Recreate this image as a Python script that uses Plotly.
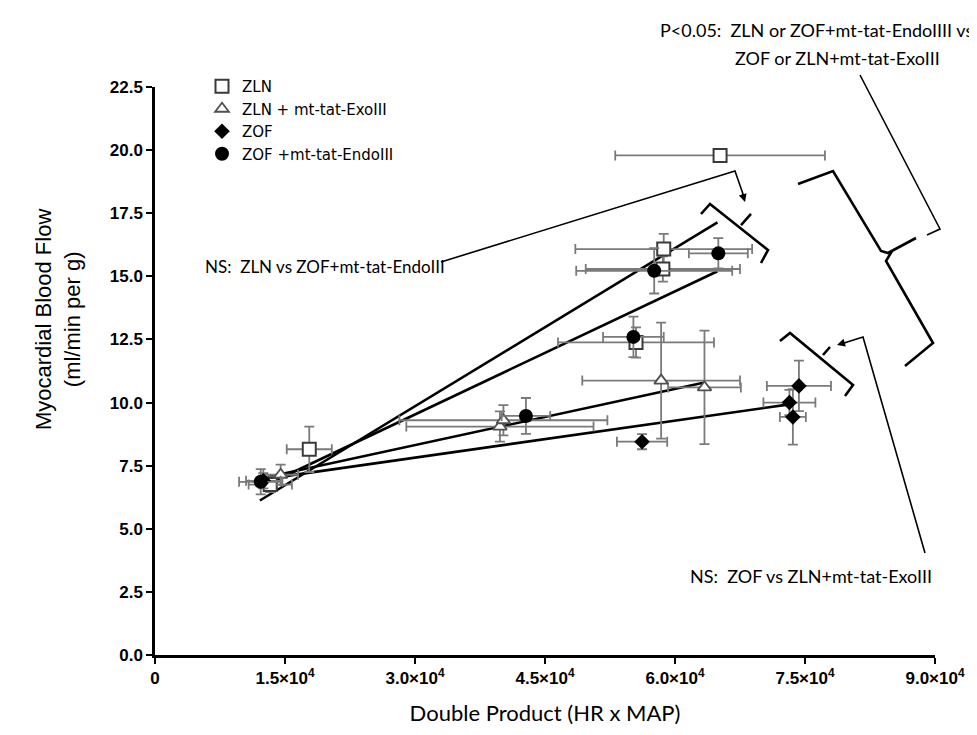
import plotly.graph_objects as go
import numpy as np

# ---------------- data ----------------
zln_x = [1.33e4, 1.78e4, 5.55e4, 5.86e4, 5.87e4, 6.52e4]
zln_y = [6.75, 8.15, 12.38, 15.29, 16.08, 19.79]
zln_ex = [0.25e4, 0.26e4, 0.90e4, 0.89e4, 1.02e4, 1.21e4]
zln_ey = [0.3, 0.9, 0.6, 0.5, 0.6, 0.0]

exo_x = [1.45e4, 3.98e4, 4.02e4, 5.84e4, 6.34e4]
exo_y = [7.14, 9.05, 9.3, 10.87, 10.6]
exo_ex = [0.2e4, 1.08e4, 1.2e4, 0.91e4, 0.42e4]
exo_ey = [0.4, 0.6, 0.6, 2.3, 2.25]

zof_x = [1.25e4, 5.62e4, 7.32e4, 7.36e4, 7.43e4]
zof_y = [6.9, 8.45, 10.0, 9.43, 10.66]
zof_ex = [0.2e4, 0.29e4, 0.3e4, 0.15e4, 0.37e4]
zof_ey = [0.3, 0.3, 0.5, 1.1, 1.0]

endo_x = [1.22e4, 4.28e4, 5.52e4, 5.76e4, 6.5e4]
endo_y = [6.86, 9.47, 12.6, 15.22, 15.91]
endo_ex = [0.25e4, 0.28e4, 0.35e4, 0.9e4, 0.34e4]
endo_ey = [0.5, 0.71, 0.8, 0.9, 0.6]

# regression lines (slope, intercept, x-range)
fit_names = ["ZLN", "ZOF +mt-tat-EndoIII", "ZLN + mt-tat-ExoIII", "ZOF"]
fit_slope = [2.087e-4, 1.626e-4, 0.742e-4, 0.489e-4]
fit_intercept = [3.595, 4.65, 6.09, 6.35]
fit_x0 = [1.21e4, 1.22e4, 1.22e4, 1.22e4]
fit_x1 = [6.49e4, 6.49e4, 6.34e4, 7.32e4]

x_tickvals = [0, 1.5e4, 3.0e4, 4.5e4, 6.0e4, 7.5e4, 9.0e4]
x_ticktext = ["0", "1.5×10<sup>4</sup>", "3.0×10<sup>4</sup>", "4.5×10<sup>4</sup>",
              "6.0×10<sup>4</sup>", "7.5×10<sup>4</sup>", "9.0×10<sup>4</sup>"]
y_tickvals = [0, 2.5, 5, 7.5, 10, 12.5, 15, 17.5, 20, 22.5]
y_ticktext = ["0.0", "2.5", "5.0", "7.5", "10.0", "12.5", "15.0", "17.5", "20.0", "22.5"]

# ---------------- figure ----------------
W, H = 977, 735
L, R, T, B = 147, 50, 79, 88
PW, PH = W - L - R, H - T - B

def px(x):
    return (x - L) / PW

def py(y):
    return (H - B - y) / PH

fig = go.Figure()

ERR = "#7a7a7a"

for s, b, x0, x1 in zip(fit_slope, fit_intercept, fit_x0, fit_x1):
    xs = np.array([x0, x1])
    fig.add_trace(go.Scatter(x=xs, y=s * xs + b, mode="lines",
                             line=dict(color="black", width=2.6),
                             showlegend=False, hoverinfo="skip"))

def add_group(name, x, y, ex, ey, symbol, size, fill, lcol, lw):
    fig.add_trace(go.Scatter(
        x=x, y=y, mode="markers", name=name,
        marker=dict(symbol=symbol, size=size, color=fill,
                    line=dict(color=lcol, width=lw)),
        error_x=dict(type="data", array=ex, color=ERR, thickness=1.8, width=5),
        error_y=dict(type="data", array=ey, color=ERR, thickness=1.8, width=5),
    ))

add_group("ZLN", zln_x, zln_y, zln_ex, zln_ey, "square", 13, "white", "#3a3a3a", 2)
add_group("ZLN + mt-tat-ExoIII", exo_x, exo_y, exo_ex, exo_ey, "triangle-up", 12, "white", "#505050", 1.8)
add_group("ZOF", zof_x, zof_y, zof_ex, zof_ey, "diamond", 12, "black", "black", 0)
add_group("ZOF +mt-tat-EndoIII", endo_x, endo_y, endo_ex, endo_ey, "circle", 14, "black", "black", 0)

# ---------------- annotation lines (pixel geometry) ----------------
def seg(pts, width=2.0):
    path = "M " + " L ".join(f"{px(a):.5f},{py(b):.5f}" for a, b in pts)
    fig.add_shape(type="path", path=path, xref="paper", yref="paper",
                  line=dict(color="black", width=width))

# NS top: line from text to arrow
seg([(433, 254), (727, 163), (735, 186)], 1.6)
# bracket 1
seg([(693, 206), (702, 196), (760, 242), (753, 255)], 2.6)
seg([(733, 217), (743, 206)], 2.6)
# bracket 2
seg([(772, 333), (782, 325), (845, 377), (837, 388)], 2.6)
seg([(815, 347), (822, 339)], 2.6)
# NS bottom line
seg([(917, 545), (855, 329), (836, 335)], 1.6)
# big brace
seg([(790, 176), (825, 163), (873, 243), (880, 245), (908, 230)], 2.6)
seg([(884, 243), (878, 253), (925, 335), (897, 358)], 2.6)
# P line
seg([(852, 67), (932, 221), (919, 227)], 1.6)

fig.add_annotation(x=px(829), y=py(337), ax=10, ay=-3, xref="paper", yref="paper",
                   axref="pixel", ayref="pixel", showarrow=True, arrowhead=2, arrowsize=1,
                   arrowwidth=1.6, arrowcolor="black", text="")
fig.add_annotation(x=px(737), y=py(194), ax=-3, ay=-10, xref="paper", yref="paper",
                   axref="pixel", ayref="pixel", showarrow=True, arrowhead=2, arrowsize=1,
                   arrowwidth=1.6, arrowcolor="black", text="")

ANN_FONT = dict(family="Lato, Open Sans, sans-serif", size=18, color="black")
fig.add_annotation(x=px(317), y=py(258), xref="paper", yref="paper", xanchor="center",
                   yanchor="middle", showarrow=False,
                   font=dict(family="Lato, Open Sans, sans-serif", size=17, color="black"),
                   text="NS:  ZLN vs ZOF+mt-tat-EndoIII")
fig.add_annotation(x=px(803), y=py(568), xref="paper", yref="paper", xanchor="center",
                   yanchor="middle", showarrow=False, font=ANN_FONT,
                   text="NS:  ZOF vs ZLN+mt-tat-ExoIII")
fig.add_annotation(x=px(808), y=py(22), xref="paper", yref="paper", xanchor="center",
                   yanchor="middle", showarrow=False, font=ANN_FONT,
                   text="P<0.05:  ZLN or ZOF+mt-tat-EndoIIII vs")
fig.add_annotation(x=px(829), y=py(50), xref="paper", yref="paper", xanchor="center",
                   yanchor="middle", showarrow=False, font=ANN_FONT,
                   text="ZOF or ZLN+mt-tat-ExoIII")

# y-axis title (placed as in the reference, above the axis centre)
fig.add_annotation(x=px(50), y=py(312), xref="paper", yref="paper", xanchor="center",
                   yanchor="middle", showarrow=False, textangle=-90,
                   font=dict(family="Liberation Sans, Arial", size=22, color="black"),
                   text="Myocardial Blood Flow<br>(ml/min per g)")

TICKFONT = dict(family="Liberation Sans Narrow, Liberation Sans, Arial", size=17,
                color="black", weight="bold")

fig.update_layout(
    width=W, height=H, margin=dict(l=L, r=R, t=T, b=B, autoexpand=False),
    plot_bgcolor="white", paper_bgcolor="white",
    legend=dict(x=px(194), y=py(62), xanchor="left", yanchor="top",
                font=dict(family="DejaVu Sans, Liberation Sans", size=15, color="black"),
                bgcolor="rgba(0,0,0,0)", tracegroupgap=0, itemwidth=30),
    xaxis=dict(range=[0, 9.0e4], tickvals=x_tickvals, ticktext=x_ticktext,
               showgrid=False, zeroline=False, showline=True, linecolor="black", linewidth=2.5,
               ticks="outside", ticklen=6, tickwidth=2, tickcolor="black",
               tickfont=TICKFONT,
               title=dict(text="Double Product (HR x MAP)", standoff=19,
                          font=dict(family="Lato, Open Sans, sans-serif", size=22, color="black"))),
    yaxis=dict(range=[0, 22.5], tickvals=y_tickvals, ticktext=y_ticktext,
               showgrid=False, zeroline=False, showline=True, linecolor="black", linewidth=2.5,
               ticks="outside", ticklen=6, tickwidth=2, tickcolor="black",
               tickfont=TICKFONT),
)

fig.write_html("out.html")
